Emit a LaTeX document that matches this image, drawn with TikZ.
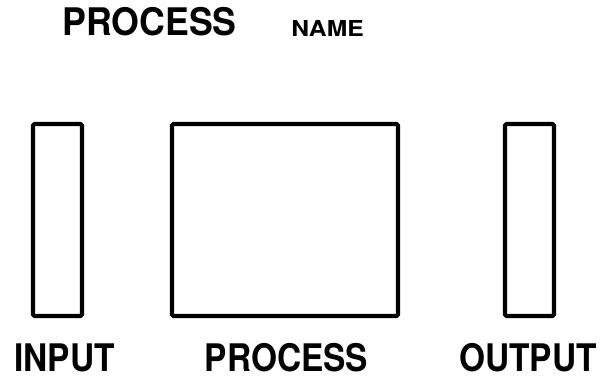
\documentclass[tikz,border=0pt]{standalone}
\usepackage{fontspec}
\newfontfamily\labelfont{TeX Gyre Heros}[FakeStretch=0.88]
\newfontfamily\titlefont{TeX Gyre Heros}[FakeStretch=0.94]
\newfontfamily\namefont{TeX Gyre Heros}[FakeStretch=1.12]
\tikzstyle{ioblock} = [
    rectangle,
    rounded corners=1.5pt,
    minimum width=49pt,
    minimum height=192pt,
    line width=4.2pt,
    draw=black
]
\tikzstyle{procblock} = [
    rectangle,
    rounded corners=1.5pt,
    minimum width=226pt,
    minimum height=192pt,
    line width=4.2pt,
    draw=black
]
\tikzstyle{caption} = [
    anchor=base,
    inner sep=0pt,
    font=\labelfont\bfseries\fontsize{38}{38}\selectfont
]

\begin{document}
\begin{tikzpicture}[x=1pt, y=-1pt, node distance=227.5pt]
\useasboundingbox (0,0) rectangle (600,379);

\node (title) [caption, font=\titlefont\bfseries\fontsize{38}{38}\selectfont] at (149.5,36) {PROCESS};
\node (name) [caption, font=\namefont\bfseries\fontsize{22}{22}\selectfont] at (327.5,37) {NAME};

\node (process) [procblock] at (285,220) {};
\node (input) [ioblock, left of=process] {};
\node (output) [ioblock, right of=process, xshift=17pt] {};

\node (inlabel) [caption] at (64.5,372) {INPUT};
\node (proclabel) [caption] at (286.5,372) {PROCESS};
\node (outlabel) [caption] at (528,372) {OUTPUT};

\end{tikzpicture}
\end{document}
